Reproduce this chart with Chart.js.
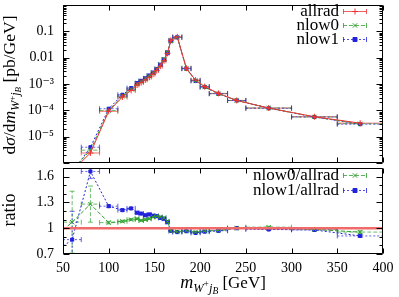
<!DOCTYPE html>
<html><head><meta charset="utf-8">
<script src="https://cdn.jsdelivr.net/npm/chart.js@4"></script>
<style>
html,body{margin:0;padding:0;background:#fff;width:399px;height:297px;overflow:hidden}
canvas{position:absolute;left:0}
#c1{top:0}
#c2{top:163px}
</style></head><body>
<canvas id="c1" width="399" height="168"></canvas>
<canvas id="c2" width="399" height="134"></canvas>
<script>
// ---- data ----
const binCenter = [40, 60, 80, 100, 115, 124.5, 131, 135.5, 140, 144.5, 148.5, 152.5, 156.5, 160.5, 164.25, 168, 175, 185, 195, 205, 220, 240, 275, 325, 375];
const binLow    = [30, 50, 70, 90, 110, 120, 129, 133, 138, 142, 146.5, 150.5, 154.5, 158.5, 162.5, 166, 170, 180, 190, 200, 210, 230, 250, 300, 350];
const binHigh   = [50, 70, 90, 110, 120, 129, 133, 138, 142, 146.5, 150.5, 154.5, 158.5, 162.5, 166, 170, 180, 190, 200, 210, 230, 250, 300, 350, 400];
const allrad = [1.0e-7, 5.0e-7, 2.4e-6, 9.2e-5, 3.2e-4, 5.7e-4, 9.15e-4, 1.13e-3, 1.43e-3, 1.81e-3, 2.36e-3, 3.23e-3, 4.74e-3, 7.6e-3, 1.46e-2, 4.54e-2, 6.18e-2, 3.96e-3, 1.40e-3, 8.0e-4, 4.4e-4, 2.37e-4, 1.22e-4, 5.7e-5, 3.26e-5];
const nlow0  = [0.89e-7, 5.35e-7, 3.07e-6, 9.8e-5, 3.46e-4, 6.27e-4, 1.02e-3, 1.23e-3, 1.57e-3, 2.0e-3, 2.67e-3, 3.68e-3, 5.36e-3, 8.5e-3, 1.58e-2, 4.4e-2, 5.93e-2, 3.84e-3, 1.34e-3, 7.7e-4, 4.29e-4, 2.37e-4, 1.23e-4, 5.6e-5, 3.1e-5];
const nlow1  = [0.71e-7, 4.35e-7, 3.98e-6, 1.15e-4, 3.9e-4, 7.0e-4, 1.08e-3, 1.32e-3, 1.64e-3, 2.1e-3, 2.7e-3, 3.7e-3, 5.4e-3, 8.5e-3, 1.56e-2, 4.4e-2, 5.9e-2, 3.82e-3, 1.32e-3, 7.7e-4, 4.27e-4, 2.37e-4, 1.2e-4, 5.6e-5, 2.97e-5];
const nlow0Ratio    = [0.89, 1.07, 1.28, 1.065, 1.08, 1.10, 1.11, 1.09, 1.10, 1.11, 1.13, 1.14, 1.13, 1.12, 1.08, 0.97, 0.96, 0.97, 0.955, 0.965, 0.975, 1.0, 1.012, 0.985, 0.955];
const nlow1Ratio    = [0.71, 0.867, 1.66, 1.256, 1.21, 1.23, 1.18, 1.17, 1.15, 1.16, 1.145, 1.14, 1.12, 1.11, 1.07, 0.97, 0.955, 0.965, 0.945, 0.96, 0.97, 1.0, 0.985, 0.98, 0.91];
const nlow0RatioErr = [0.30, 0.36, 0.21, 0.015, 0.012, 0.012, 0.01, 0.01, 0.01, 0.01, 0.01, 0.01, 0.01, 0.01, 0.008, 0.005, 0.005, 0.008, 0.008, 0.01, 0.01, 0.01, 0.01, 0.012, 0.015];
const nlow1RatioErr = [0.30, 0.33, 0.08, 0.015, 0.012, 0.012, 0.01, 0.01, 0.01, 0.01, 0.01, 0.01, 0.01, 0.01, 0.008, 0.005, 0.005, 0.008, 0.008, 0.01, 0.01, 0.01, 0.01, 0.012, 0.015];
const ratioReference = 1;
const xRange = [50, 400];
const xTicks = [50, 100, 150, 200, 250, 300, 350, 400];
const topRange = [1e-6, 1];
const topTicks = [1e-5, 1e-4, 1e-3, 0.01, 0.1];
const topTickLabels = ['10⁻⁵', '10⁻⁴', '10⁻³', '0.01', '0.1'];
const ratioRange = [0.7, 1.7];
const ratioTicks = [0.7, 1, 1.3, 1.6];
const ratioTickLabels = ['0.7', '1', '1.3', '1.6'];
const ratioMinorStep = 0.1;
const topLegend = ['allrad', 'nlow0', 'nlow1'];
const ratioLegend = ['nlow0/allrad', 'nlow1/allrad'];

// ---- styles ----
const RED = '#ee3333', GREEN = '#2f9f2f', BLUE = '#2222dd';
const FONT = '"Liberation Serif", "DejaVu Serif", serif';
const styles = [
  {color: RED, dash: [], point: 'cross', fill: RED},
  {color: GREEN, dash: [4, 2], point: 'crossRot', fill: GREEN},
  {color: BLUE, dash: [2, 2], point: 'rect', fill: BLUE},
];

function pts(ys) { return binCenter.map((x, i) => ({x: x, y: ys[i]})); }

function dataset(label, ys, st, yerr) {
  return {
    label, data: pts(ys), borderColor: st.color, backgroundColor: st.fill,
    borderWidth: 1, borderDash: st.dash, pointStyle: st.point,
    pointRadius: st.point === 'rect' ? 2.2 : 3, pointBorderWidth: 1,
    pointBorderColor: st.color, pointBackgroundColor: st.fill,
    tension: 0, err: {color: st.color, yerr: yerr || null}
  };
}

const errPlugin = {
  id: 'errbars',
  beforeDatasetsDraw(chart) {
    const {ctx, chartArea: a, scales: {x, y}} = chart;
    ctx.save();
    ctx.beginPath(); ctx.rect(a.left, a.top, a.right - a.left, a.bottom - a.top); ctx.clip();
    chart.data.datasets.forEach(ds => {
      if (!ds.err) return;
      ctx.strokeStyle = ds.err.color; ctx.globalAlpha = 0.7; ctx.lineWidth = 1;
      ds.data.forEach((p, i) => {
        const py = y.getPixelForValue(p.y), px = x.getPixelForValue(p.x);
        const xl = x.getPixelForValue(binLow[i]), xh = x.getPixelForValue(binHigh[i]);
        ctx.setLineDash(ds.borderDash);
        ctx.beginPath(); ctx.moveTo(xl, py); ctx.lineTo(xh, py); ctx.stroke();
        ctx.setLineDash([]);
        ctx.beginPath();
        ctx.moveTo(xl, py - 2.5); ctx.lineTo(xl, py + 2.5);
        ctx.moveTo(xh, py - 2.5); ctx.lineTo(xh, py + 2.5); ctx.stroke();
        if (ds.err.yerr) {
          const e = ds.err.yerr[i];
          const y1 = y.getPixelForValue(p.y - e), y2 = y.getPixelForValue(p.y + e);
          ctx.setLineDash(ds.borderDash);
          ctx.beginPath(); ctx.moveTo(px, y1); ctx.lineTo(px, y2); ctx.stroke();
          ctx.setLineDash([]);
          ctx.beginPath();
          ctx.moveTo(px - 2.5, y1); ctx.lineTo(px + 2.5, y1);
          ctx.moveTo(px - 2.5, y2); ctx.lineTo(px + 2.5, y2); ctx.stroke();
        }
      });
    });
    ctx.restore();
  }
};

function drawRich(ctx, segs, cx, cy) {
  let w = 0;
  segs.forEach(s => { ctx.font = (s.it ? 'italic ' : '') + s.s + 'px ' + FONT; s.w = ctx.measureText(s.t).width; w += s.w; });
  let x = cx - w / 2;
  ctx.textBaseline = 'alphabetic'; ctx.textAlign = 'left'; ctx.fillStyle = '#000';
  segs.forEach(s => { ctx.font = (s.it ? 'italic ' : '') + s.s + 'px ' + FONT; ctx.fillText(s.t, x, cy + (s.dy || 0)); x += s.w; });
}

function drawMarker(ctx, st, x, y) {
  ctx.setLineDash([]);
  ctx.strokeStyle = st.color; ctx.fillStyle = st.fill; ctx.lineWidth = 1;
  ctx.beginPath();
  if (st.point === 'cross') { ctx.moveTo(x - 3, y); ctx.lineTo(x + 3, y); ctx.moveTo(x, y - 3); ctx.lineTo(x, y + 3); ctx.stroke(); }
  else if (st.point === 'crossRot') { ctx.moveTo(x - 2.2, y - 2.2); ctx.lineTo(x + 2.2, y + 2.2); ctx.moveTo(x - 2.2, y + 2.2); ctx.lineTo(x + 2.2, y - 2.2); ctx.stroke(); }
  else { ctx.rect(x - 2, y - 2, 4, 4); ctx.fill(); ctx.stroke(); }
}

function legendPlugin(labels, stylesList, yAbs, offset) {
  return {
    id: 'legendCustom',
    afterDraw(chart) {
      const ctx = chart.ctx;
      ctx.save();
      labels.forEach((t, i) => {
        const y = yAbs[i] - offset, st = stylesList[i];
        ctx.font = '17px ' + FONT; ctx.fillStyle = '#000';
        ctx.textAlign = 'right'; ctx.textBaseline = 'middle';
        ctx.fillText(t, 339, y + 1);
        ctx.strokeStyle = st.color; ctx.lineWidth = 1; ctx.globalAlpha = 0.8;
        ctx.setLineDash(st.dash);
        ctx.beginPath(); ctx.moveTo(343, y + 0.5); ctx.lineTo(367, y + 0.5); ctx.stroke();
        ctx.setLineDash([]);
        ctx.beginPath(); ctx.moveTo(343.5, y - 2); ctx.lineTo(343.5, y + 3); ctx.moveTo(366.5, y - 2); ctx.lineTo(366.5, y + 3); ctx.stroke();
        ctx.globalAlpha = 1;
        drawMarker(ctx, st, 355, y + 0.5);
      });
      ctx.restore();
    }
  };
}

function framePlugin(kind) {
  return {
    id: 'frame',
    afterDraw(chart) {
      const {ctx, chartArea: a, scales: {x, y}} = chart;
      ctx.save();
      ctx.strokeStyle = '#000'; ctx.lineWidth = 1; ctx.setLineDash([]);
      const L = Math.round(a.left) + 0.5, R = Math.round(a.right) - 0.5, T = Math.round(a.top) + 0.5, B = Math.round(a.bottom) - 0.5;
      ctx.beginPath(); ctx.rect(L, T, R - L, B - T); ctx.stroke();
      ctx.beginPath();
      xTicks.forEach(v => {
        const px = Math.round(x.getPixelForValue(v)) + 0.5;
        ctx.moveTo(px, T); ctx.lineTo(px, T + 5);
        ctx.moveTo(px, B); ctx.lineTo(px, B - 5);
      });
      const ytick = (v, len) => {
        const py = Math.round(y.getPixelForValue(v)) + 0.5;
        ctx.moveTo(L, py); ctx.lineTo(L + len, py);
        ctx.moveTo(R, py); ctx.lineTo(R - len, py);
      };
      if (kind === 'top') {
        for (let d = -6; d <= 0; d++) {
          ytick(Math.pow(10, d), 6);
          if (d < 0) for (let k = 2; k <= 9; k++) ytick(k * Math.pow(10, d), 3);
        }
      } else {
        for (let v = ratioRange[0]; v <= ratioRange[1] + 1e-9; v += ratioMinorStep) {
          const isMajor = ratioTicks.some(t => Math.abs(t - v) < 1e-6);
          ytick(v, isMajor ? 6 : 3);
        }
      }
      ctx.stroke();
      if (kind === 'top') {
        ctx.save(); ctx.translate(15, 85); ctx.rotate(-Math.PI / 2);
        drawRich(ctx, [
          {t: 'd', s: 17.5}, {t: 'σ', s: 17.5, it: true}, {t: '/d', s: 17.5}, {t: 'm', s: 17.5, it: true},
          {t: 'W', s: 12, it: true, dy: 4}, {t: '+', s: 9, dy: 0}, {t: 'j', s: 12, it: true, dy: 4},
          {t: 'B', s: 9, it: true, dy: 6}, {t: ' [pb/GeV]', s: 17.5}
        ], 0, 0);
        ctx.restore();
      } else {
        ctx.save(); ctx.translate(15, 210 - 163); ctx.rotate(-Math.PI / 2);
        drawRich(ctx, [{t: 'ratio', s: 18}], 0, 0);
        ctx.restore();
        drawRich(ctx, [
          {t: 'm', s: 18, it: true}, {t: 'W', s: 12.5, it: true, dy: 4}, {t: '+', s: 9.5, dy: -1},
          {t: 'j', s: 12.5, it: true, dy: 4}, {t: 'B', s: 9.5, it: true, dy: 6}, {t: ' [GeV]', s: 17}
        ], 223, 288 - 163);
      }
      ctx.restore();
    }
  };
}

const tickFont = {family: FONT, size: 14};
const fixY = s => { s.width = 63; s.paddingTop = 0; s.paddingBottom = 0; };
const fixX = h => s => { s.height = h; s.paddingLeft = 0; s.paddingRight = 0; };

new Chart(document.getElementById('c1'), {
  type: 'line',
  data: {datasets: [
    dataset(topLegend[0], allrad, styles[0]),
    dataset(topLegend[1], nlow0, styles[1]),
    dataset(topLegend[2], nlow1, styles[2]),
  ]},
  options: {
    responsive: false, animation: false, devicePixelRatio: 1,
    layout: {padding: {top: 1, right: 16, bottom: 3, left: 0}},
    plugins: {legend: {display: false}, tooltip: {enabled: false}},
    scales: {
      x: {type: 'linear', min: xRange[0], max: xRange[1], display: false},
      y: {
        type: 'logarithmic', min: topRange[0], max: topRange[1],
        afterFit: fixY,
        afterBuildTicks: s => { s.ticks = topTicks.map(v => ({value: v})); },
        grid: {display: false, drawTicks: false}, border: {display: false},
        ticks: {font: tickFont, color: '#000', padding: 9, autoSkip: false,
          callback: v => topTickLabels[topTicks.findIndex(t => Math.abs(t - v) / t < 1e-6)]}
      }
    }
  },
  plugins: [errPlugin, framePlugin('top'), legendPlugin(topLegend, styles, [11, 25, 39], 0)]
});

const refStyle = {color: '#f06a6a'};
new Chart(document.getElementById('c2'), {
  type: 'line',
  data: {datasets: [
    {label: 'allrad/allrad', data: xRange.map(x => ({x, y: ratioReference})), borderColor: refStyle.color, borderWidth: 2.5, pointRadius: 0},
    dataset(ratioLegend[0], nlow0Ratio, styles[1], nlow0RatioErr),
    dataset(ratioLegend[1], nlow1Ratio, styles[2], nlow1RatioErr),
  ]},
  options: {
    responsive: false, animation: false, devicePixelRatio: 1,
    layout: {padding: {top: 2, right: 16, bottom: 0, left: 0}},
    plugins: {legend: {display: false}, tooltip: {enabled: false}},
    scales: {
      x: {
        type: 'linear', min: xRange[0], max: xRange[1],
        afterFit: fixX(43),
        afterBuildTicks: s => { s.ticks = xTicks.map(v => ({value: v})); },
        grid: {display: false, drawTicks: false}, border: {display: false},
        ticks: {font: tickFont, color: '#000', padding: 6, maxRotation: 0, autoSkip: false}
      },
      y: {
        type: 'linear', min: ratioRange[0], max: ratioRange[1],
        afterFit: fixY,
        afterBuildTicks: s => { s.ticks = ratioTicks.map(v => ({value: v})); },
        grid: {display: false, drawTicks: false}, border: {display: false},
        ticks: {font: tickFont, color: '#000', padding: 9, autoSkip: false,
          callback: v => ratioTickLabels[ratioTicks.findIndex(t => Math.abs(t - v) < 1e-6)]}
      }
    }
  },
  plugins: [errPlugin, framePlugin('ratio'), legendPlugin(ratioLegend, [styles[1], styles[2]], [175, 190], 163)]
});
</script>
</body></html>
